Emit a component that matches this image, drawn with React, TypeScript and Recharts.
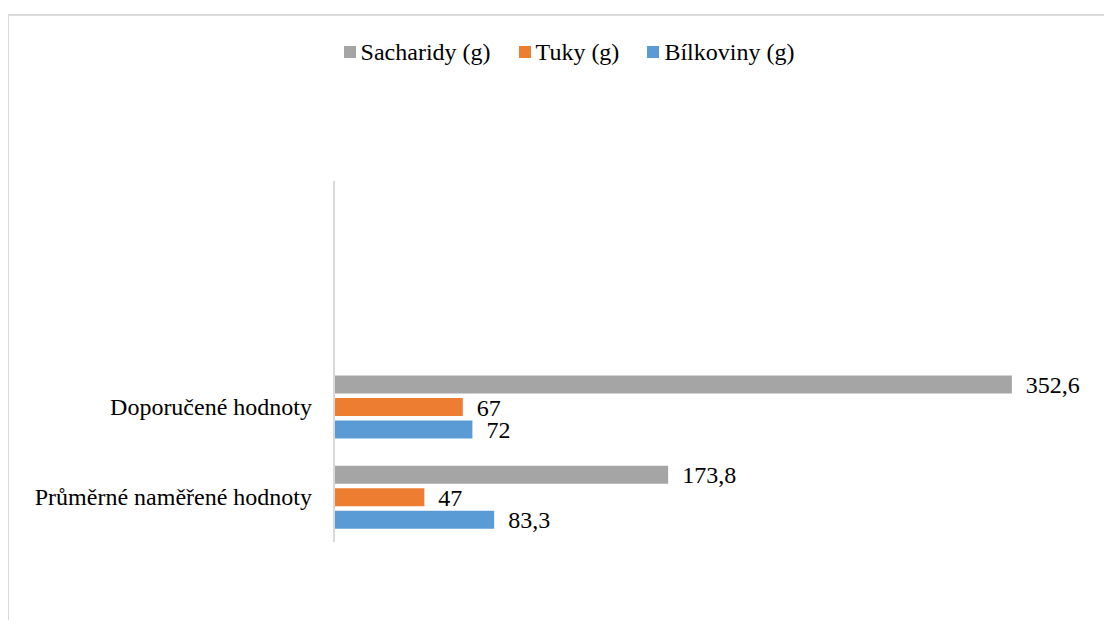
// Horizontal grouped bar chart: recommended vs. measured macronutrient intake.
import { Bar, BarChart, LabelList, Legend, XAxis, YAxis } from 'recharts';

const categories = ['', ' ', 'Doporučené hodnoty', 'Průměrné naměřené hodnoty'];
const sacharidy = [null, null, 352.6, 173.8];
const tuky = [null, null, 67, 47];
const bilkoviny = [null, null, 72, 83.3];

const series = [
  { key: 'sacharidy', label: 'Sacharidy (g)', color: '#A5A5A5', values: sacharidy },
  { key: 'tuky', label: 'Tuky (g)', color: '#ED7D31', values: tuky },
  { key: 'bilkoviny', label: 'Bílkoviny (g)', color: '#5B9BD5', values: bilkoviny },
];

const data = categories.map((name, i) => {
  const row: Record<string, string | number | null> = { name };
  series.forEach((s) => {
    row[s.key] = s.values[i];
  });
  return row;
});

const FONT = 'Liberation Serif';

const fmt = (v: unknown) =>
  v === null || v === undefined ? '' : String(v).replace('.', ',');

function LegendContent() {
  return (
    <div
      style={{
        display: 'flex',
        justifyContent: 'center',
        alignItems: 'center',
        fontFamily: FONT,
        fontSize: 24,
        color: '#000',
        lineHeight: '24px',
        paddingLeft: 18,
      }}
    >
      {series.map((s, i) => (
        <div
          key={s.key}
          style={{ display: 'flex', alignItems: 'center', marginLeft: i === 0 ? 0 : 28 }}
        >
          <span
            style={{ width: 12, height: 12, background: s.color, display: 'inline-block', marginRight: 5 }}
          />
          <span>{s.label}</span>
        </div>
      ))}
    </div>
  );
}

export default function App() {
  return (
    <div style={{ position: 'relative', width: 1104, height: 612, fontFamily: FONT }}>
      <div
        style={{
          position: 'absolute',
          left: -1,
          top: 6,
          width: 1105,
          height: 614,
          borderLeft: '2px solid #d9d9d9',
          borderTop: '2px solid #d9d9d9',
          boxSizing: 'border-box',
        }}
      />
      <div style={{ position: 'absolute', left: 0, top: 0 }}>
        <BarChart
          width={1104}
          height={612}
          data={data}
          layout="vertical"
          margin={{ top: 149, right: 9, bottom: 78, left: 0 }}
          barGap={4.5}
          barSize={18}
        >
          <XAxis type="number" domain={[0, 400]} hide />
          <YAxis
            type="category"
            dataKey="name"
            width={326}
            tickSize={0}
            tickMargin={22}
            tickLine={false}
            axisLine={{ stroke: '#d9d9d9', strokeWidth: 2 }}
            tick={{ fill: '#000', fontSize: 24, fontFamily: FONT }}
            interval={0}
          />
          <Legend
            verticalAlign="top"
            align="center"
            height={24}
            content={<LegendContent />}
            wrapperStyle={{ top: 32, left: 0, width: 1104 }}
          />
          {series.map((s) => (
            <Bar key={s.key} dataKey={s.key} name={s.label} fill={s.color} isAnimationActive={false}>
              <LabelList
                dataKey={s.key}
                position="right"
                offset={14}
                formatter={fmt}
                fill="#000"
                fontSize={24}
                fontFamily={FONT}
              />
            </Bar>
          ))}
        </BarChart>
      </div>
    </div>
  );
}
